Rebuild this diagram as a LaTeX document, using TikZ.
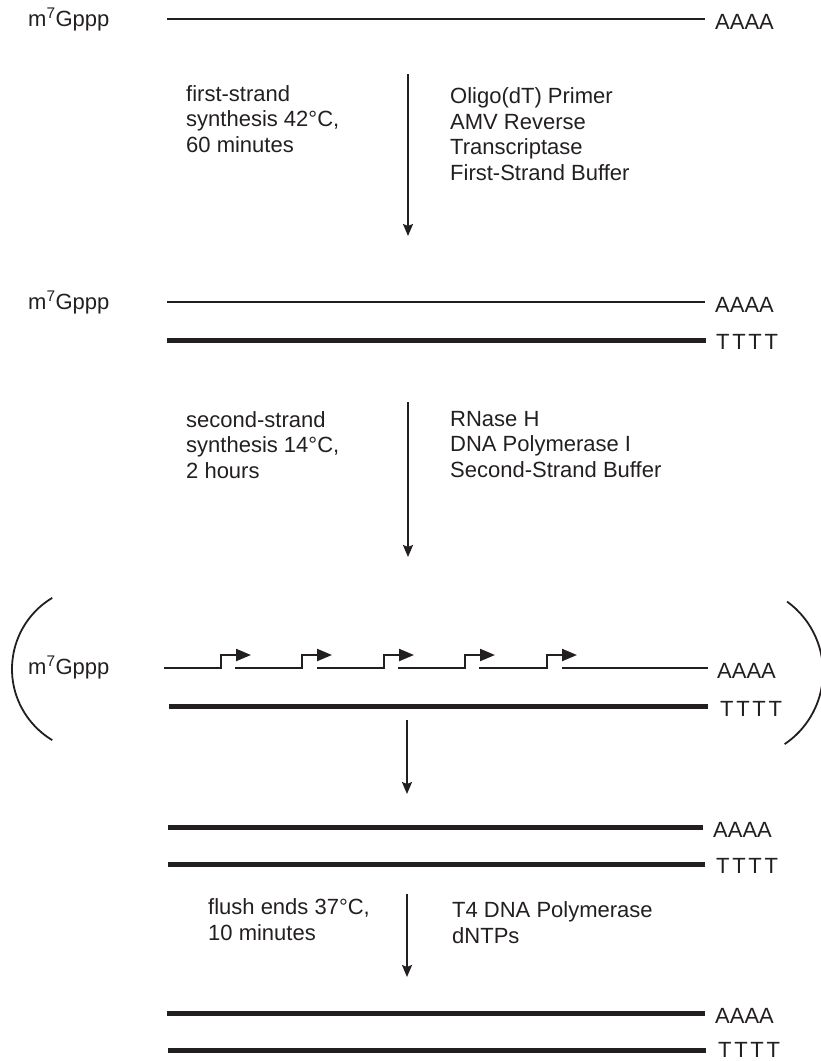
\documentclass[tikz,border=0pt]{standalone}
\usepackage{fontspec}
\setmainfont{Liberation Sans}
\usetikzlibrary{arrows.meta}

\definecolor{ink}{HTML}{231F20}
\tikzset{
  lbl/.style={inner sep=0pt,anchor=base west,text=ink,font=\fontsize{22}{25.5}\selectfont},
  note/.style={lbl,align=left},
  rna/.style={draw=ink,line width=2.2pt},
  dna/.style={draw=ink,line width=5pt},
  flow/.style={draw=ink,line width=1.8pt,-{Stealth[length=12pt,width=10pt,inset=2pt]}},
  primer/.style={rna,line join=miter,-{Triangle[length=15pt,width=12pt]}},
  brace/.style={draw=ink,line width=1.8pt}
}
\newcommand{\capgppp}{m\textsuperscript{7}Gppp}
\newcommand{\tttt}{T\kern2.7pt T\kern2.7pt T\kern2.7pt T}

\begin{document}
\begin{tikzpicture}[x=1pt,y=-1pt]
  \useasboundingbox (0,0) rectangle (820,1061);

  % mRNA
  \node[lbl] (cap1) at (28,26) {\capgppp};
  \node[lbl] (pA1) at (715,29) {AAAA};
  \coordinate (s1a) at (167,19);
  \coordinate (s1b) at (705,19);
  \draw[rna] (s1a) -- (s1b);

  % first strand (notes sit on their last line)
  \coordinate (f1a) at (408,74);
  \coordinate (f1b) at (408,236);
  \draw[flow] (f1a) -- (f1b);
  \node[note] (cond1) at (186,152) {first-strand\\synthesis 42°C,\\60 minutes};
  \node[note] (mix1) at (450,180) {Oligo(dT) Primer\\AMV Reverse\\Transcriptase\\First-Strand Buffer};

  % mRNA : cDNA hybrid
  \node[lbl] (cap2) at (28,309) {\capgppp};
  \node[lbl] (pA2) at (715,312) {AAAA};
  \node[lbl] (pT2) at (716,349) {\tttt};
  \coordinate (s2a) at (167,302);
  \coordinate (s2b) at (705,302);
  \coordinate (s2c) at (167,340);
  \coordinate (s2d) at (706,340);
  \draw[rna] (s2a) -- (s2b);
  \draw[dna] (s2c) -- (s2d);

  % second strand
  \coordinate (f2a) at (408,402);
  \coordinate (f2b) at (408,557);
  \draw[flow] (f2a) -- (f2b);
  \node[note] (cond2) at (186,478) {second-strand\\synthesis 14°C,\\2 hours};
  \node[note] (mix2) at (450,477) {RNase H\\DNA Polymerase I\\Second-Strand Buffer};

  % nicked mRNA with primers
  \node[lbl] (cap3) at (28,674) {\capgppp};
  \node[lbl] (pA3) at (717,678) {AAAA};
  \node[lbl] (pT3) at (720,716) {\tttt};
  \foreach \s/\k in {164/221,235/302,317/384,398/465,479/547}
    \draw[primer] (\s,668) -- (\k,668) -- (\k,655) -- (\k+30,655);
  \coordinate (s3a) at (562,668);
  \coordinate (s3b) at (708,668);
  \coordinate (s3c) at (169,706);
  \coordinate (s3d) at (708,706);
  \draw[rna] (s3a) -- (s3b);
  \draw[dna] (s3c) -- (s3d);
  \draw[brace] (95,669) ++(239:83) arc[start angle=239,end angle=121,radius=83];
  \draw[brace] (736,672) ++(-54:87) arc[start angle=-54,end angle=56,radius=87];

  \coordinate (f3a) at (407,720);
  \coordinate (f3b) at (407,794);
  \draw[flow] (f3a) -- (f3b);

  % double-stranded cDNA
  \node[lbl] (pA4) at (713,837) {AAAA};
  \node[lbl] (pT4) at (716,873) {\tttt};
  \coordinate (s4a) at (168,827);
  \coordinate (s4b) at (703,827);
  \coordinate (s4c) at (168,864);
  \coordinate (s4d) at (705,864);
  \draw[dna] (s4a) -- (s4b);
  \draw[dna] (s4c) -- (s4d);

  % flush ends
  \coordinate (f4a) at (407,894);
  \coordinate (f4b) at (407,977);
  \draw[flow] (f4a) -- (f4b);
  \node[note] (cond3) at (208,940) {flush ends 37°C,\\10 minutes};
  \node[note] (mix3) at (452,943) {T4 DNA Polymerase\\dNTPs};

  % blunt cDNA
  \node[lbl] (pA5) at (715,1023) {AAAA};
  \node[lbl] (pT5) at (718,1057) {\tttt};
  \coordinate (s5a) at (167,1013);
  \coordinate (s5b) at (705,1013);
  \coordinate (s5c) at (168,1050);
  \coordinate (s5d) at (706,1050);
  \draw[dna] (s5a) -- (s5b);
  \draw[dna] (s5c) -- (s5d);
\end{tikzpicture}
\end{document}
